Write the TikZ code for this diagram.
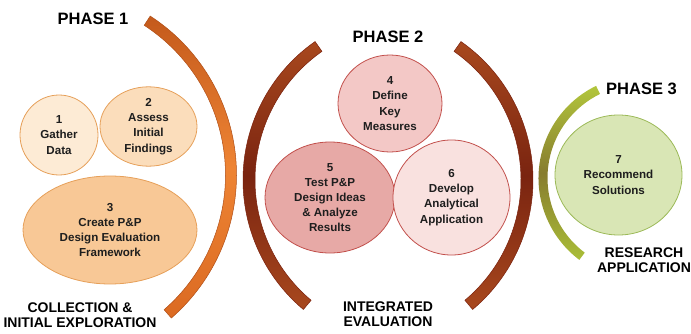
\documentclass[tikz,border=0pt]{standalone}
\usepackage{fontspec}
\setmainfont{Liberation Sans}
\usetikzlibrary{shapes.geometric}

% palette
\definecolor{oneFill}{HTML}{FDEBD5}
\definecolor{twoFill}{HTML}{FBDDBB}
\definecolor{threeFill}{HTML}{F8C896}
\definecolor{orangeLine}{HTML}{E6A05A}
\definecolor{fourFill}{HTML}{F3C8C6}
\definecolor{fiveFill}{HTML}{E7A9A6}
\definecolor{sixFill}{HTML}{F9E1DF}
\definecolor{redLine}{HTML}{C2504C}
\definecolor{sevenFill}{HTML}{D9E6B5}
\definecolor{greenLine}{HTML}{9BB957}
\definecolor{inkText}{HTML}{1E1E1E}
% arc colours
\definecolor{pOneTop}{HTML}{C45A1C}
\definecolor{pOneMid}{HTML}{EE8434}
\definecolor{pOneBot}{HTML}{DB6A22}
\definecolor{pOneEdge}{HTML}{B04E16}
\definecolor{pTwoEnd}{HTML}{A8481E}
\definecolor{pTwoMid}{HTML}{7A2410}
\definecolor{pTwoEdge}{HTML}{7A200C}
\definecolor{pThreeTop}{HTML}{B2C63C}
\definecolor{pThreeMid}{HTML}{877C2E}
\definecolor{pThreeBot}{HTML}{AABE38}

% a thick curved band: style, centre, mid radius, width, start angle, end angle
\newcommand\phaseband[6]{%
  \pgfmathsetmacro\bandout{#3+#4/2}%
  \pgfmathsetmacro\bandin{#3-#4/2}%
  \shade[#1, shift={(#2)}] (#5:\bandout pt)
    arc[start angle=#5, end angle=#6, radius=\bandout pt]
    -- (#6:\bandin pt)
    arc[start angle=#6, end angle=#5, radius=\bandin pt] -- cycle;}

\begin{document}
\begin{tikzpicture}[x=1pt,y=1pt,
  stage/.style={ellipse, draw, line width=0.8pt, inner sep=0pt, align=center,
    text=inkText, font=\fontsize{11.6}{15.2}\selectfont\bfseries},
  phase/.style={font=\fontsize{16.5}{18}\selectfont\bfseries, text=black},
  caption/.style={font=\fontsize{14}{15}\selectfont\bfseries, align=center, text=black},
]
\useasboundingbox (0,0) rectangle (691,333);

% phase bands (middle color must follow top/bottom color)
\phaseband{top color=pOneTop, bottom color=pOneBot, middle color=pOneMid, draw=pOneEdge, line width=0.5pt}{47,158}{184}{11}{57}{-49}
\phaseband{top color=pTwoEnd, bottom color=pTwoEnd, middle color=pTwoMid, draw=pTwoEdge, line width=0.5pt}{412,153}{163}{12}{125}{230}
\phaseband{top color=pTwoEnd, bottom color=pTwoEnd, middle color=pTwoMid, draw=pTwoEdge, line width=0.5pt}{364,153}{163}{12}{55}{-50}
\phaseband{top color=pThreeTop, bottom color=pThreeBot, middle color=pThreeMid}{641,155}{98}{9}{116}{233}

% phase 1
\node[stage, fill=oneFill, draw=orangeLine, minimum width=78pt, minimum height=80pt] (gather) at (59,198) {1\\Gather\\Data};
\node[stage, fill=twoFill, draw=orangeLine, minimum width=97pt, minimum height=77pt] (assess) at (148.5,206.5) {2\\Assess\\Initial\\Findings};
\node[stage, fill=threeFill, draw=orangeLine, minimum width=174pt, minimum height=108pt] (create) at (110,103) {3\\Create P\&P\\Design Evaluation\\Framework};

% phase 2
\node[stage, fill=fourFill, draw=redLine, minimum width=104pt, minimum height=97pt] (define) at (390,229.5) {4\\Define\\Key\\Measures};
\node[stage, fill=fiveFill, draw=redLine, minimum width=130pt, minimum height=111pt] (test) at (330,135.5) {5\\Test P\&P\\Design Ideas\\\& Analyze\\Results};
\node[stage, fill=sixFill, draw=redLine, minimum width=117pt, minimum height=115pt] (develop) at (451.5,135.5) {6\\Develop\\Analytical\\Application};

% phase 3
\node[stage, fill=sevenFill, draw=greenLine, minimum width=127pt, minimum height=120pt] (recommend) at (618.5,158) {7\\Recommend\\Solutions};

% titles
\node[phase] (phaseone) at (93,314.5) {PHASE 1};
\node[phase] (phasetwo) at (388,296.5) {PHASE 2};
\node[phase] (phasethree) at (641.5,244) {PHASE 3};

% captions
\node[caption] (capone) at (80,18) {COLLECTION \&\\INITIAL EXPLORATION};
\node[caption] (captwo) at (388,19) {INTEGRATED\\EVALUATION};
\node[caption] (capthree) at (644,72.5) {RESEARCH\\APPLICATION};
\end{tikzpicture}
\end{document}
